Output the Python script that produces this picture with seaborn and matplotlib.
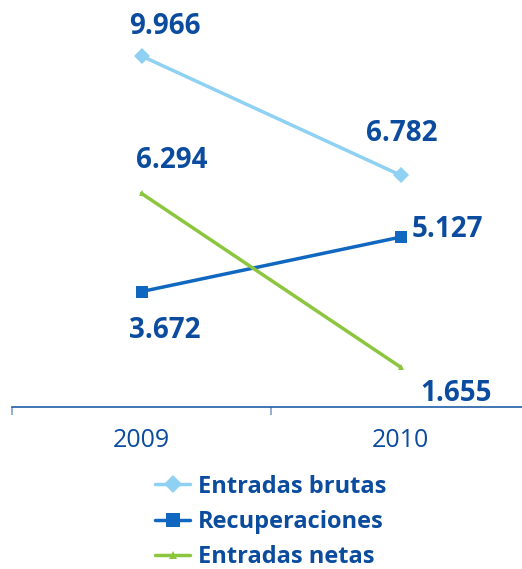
import pandas as pd
import matplotlib
matplotlib.use('Agg')
import matplotlib.pyplot as plt
import seaborn as sns
from matplotlib.lines import Line2D

# datos
years = ['2009', '2010']
brutas = [9966, 6782]
recuperaciones = [3672, 5127]
netas = [6294, 1655]
series_names = ['Entradas brutas', 'Recuperaciones', 'Entradas netas']

df = pd.DataFrame({
    'Año': years * 3,
    'Valor': brutas + recuperaciones + netas,
    'Serie': [s for s in series_names for _ in years],
})

colors = {'Entradas brutas': '#8ed1f2', 'Recuperaciones': '#0f67c0', 'Entradas netas': '#8cc63e'}
markers = {'Entradas brutas': 'D', 'Recuperaciones': 's', 'Entradas netas': '^'}
msizes = {'Entradas brutas': 8, 'Recuperaciones': 9, 'Entradas netas': 5}
text_color = '#0b4c9e'

sns.set_style('white')
plt.rcParams['font.family'] = ['Open Sans', 'DejaVu Sans']

fig = plt.figure(figsize=(5.22, 5.69), dpi=100)
ax = fig.add_axes([12 / 522, 162 / 569, 510 / 522, 407 / 569])

for name in series_names:
    sub = df[df['Serie'] == name]
    sns.lineplot(data=sub, x='Año', y='Valor', ax=ax, color=colors[name],
                 marker=markers[name], markersize=msizes[name], markeredgewidth=0,
                 linewidth=2.5, legend=False)

# etiquetas de valores (offset en píxeles)
offsets = {
    'Entradas brutas': [(23, 29), (1, 42)],
    'Recuperaciones': [(23, -39), (47, 8)],
    'Entradas netas': [(30, 33), (56, -26)],
}
for name, vals in zip(series_names, [brutas, recuperaciones, netas]):
    for i, v in enumerate(vals):
        ax.annotate(f'{v:,}'.replace(',', '.'), (i, v), xytext=offsets[name][i],
                    textcoords='offset pixels', ha='center', va='center',
                    fontsize=20, fontweight='bold', color=text_color)

ax.set_xlim(-0.5, -0.5 + 510 / 259)
ax.set_ylim(588, 11462)
ax.set_xlabel('')
ax.set_ylabel('')
ax.set_yticks([])
for s in ['top', 'right', 'left']:
    ax.spines[s].set_visible(False)
ax.spines['bottom'].set_color('#1f5fa8')
ax.spines['bottom'].set_linewidth(1.2)
ax.set_xticks([0, 1])
ax.set_xticklabels(years, fontsize=18, color=text_color)
ax.set_xticks([-0.5, 0.5], minor=True)
ax.tick_params(axis='x', which='major', length=0, pad=15)
ax.tick_params(axis='x', which='minor', bottom=True, length=6, width=1.2,
               color='#7f9fc8', direction='out')

handles = [Line2D([0], [0], color=colors[n], marker=markers[n], markersize=msizes[n] + 1,
                  markeredgewidth=0, linewidth=2.5) for n in series_names]
leg = fig.legend(handles, series_names, loc='center left', bbox_to_anchor=(155 / 522, 1 - 522 / 569),
                 frameon=False, borderpad=0, borderaxespad=0,
                 handlelength=1.5, handletextpad=0.3, labelspacing=0.48,
                 prop={'size': 17, 'weight': 'bold'})
for t in leg.get_texts():
    t.set_color(text_color)

fig.savefig('out.png', dpi=100)
